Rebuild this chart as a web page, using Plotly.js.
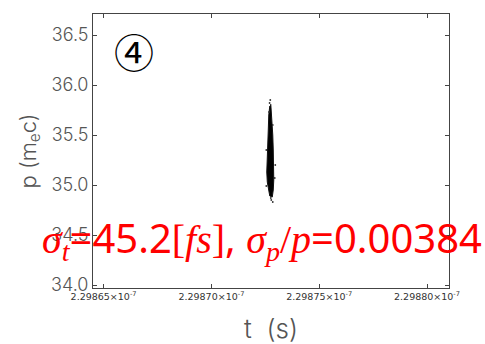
<!DOCTYPE html>
<html>
<head>
<meta charset="utf-8">
<script src="https://cdn.plot.ly/plotly-3.0.1.min.js"></script>
<style>html,body{margin:0;padding:0;background:#fff;}#chart{width:485px;height:344px;}</style>
</head>
<body>
<div id="chart"></div>
<script>
// Outline of the dense bunch core (t in seconds, p in m_e c)
const coreT = [2.29872708e-7, 2.29872662e-7, 2.29872639e-7, 2.29872616e-7, 2.29872593e-7, 2.29872569e-7, 2.29872569e-7, 2.29872593e-7, 2.29872639e-7, 2.29872708e-7,
               2.29872824e-7, 2.29872870e-7, 2.29872894e-7, 2.29872894e-7, 2.29872870e-7, 2.29872847e-7, 2.29872801e-7, 2.29872778e-7, 2.29872755e-7];
const coreP = [35.79, 35.70, 35.55, 35.40, 35.25, 35.17, 35.13, 35.03, 34.95, 34.89,
               34.88, 34.95, 35.05, 35.17, 35.35, 35.50, 35.65, 35.75, 35.81];
// Sparse outlying particles
const strayT = [2.29872731e-7, 2.29872699e-7, 2.29872671e-7, 2.29872847e-7, 2.29872546e-7, 2.29872963e-7, 2.29872940e-7, 2.29872546e-7, 2.29872778e-7, 2.29872847e-7, 2.29872755e-7];
const strayP = [35.85, 35.82, 35.73, 35.60, 35.35, 35.20, 35.07, 34.99, 34.85, 34.83, 34.87];

const xTicks = [2.29865e-7, 2.29870e-7, 2.29875e-7, 2.29880e-7];
const xTickText = ['2.29865×10<sup>-7</sup>', '2.29870×10<sup>-7</sup>', '2.29875×10<sup>-7</sup>', '2.29880×10<sup>-7</sup>'];
const yTicks = [34.0, 34.5, 35.0, 35.5, 36.0, 36.5];
const yTickText = ['34.0', '34.5', '35.0', '35.5', '36.0', '36.5'];

const traces = [
  {x: coreT, y: coreP, type: 'scatter', mode: 'lines', fill: 'toself',
   fillcolor: '#000', line: {color: '#111', width: 1}, hoverinfo: 'skip'},
  {x: strayT, y: strayP, type: 'scatter', mode: 'markers',
   marker: {color: '#333', size: 1.8}, hoverinfo: 'skip'}
];

const thin = 'Inter';
const layout = {
  width: 485, height: 344,
  margin: {l: 92.5, r: 36, t: 14, b: 56},
  paper_bgcolor: '#fff', plot_bgcolor: '#fff',
  showlegend: false,
  xaxis: {
    range: [2.2986451e-7, 2.2988102e-7],
    tickmode: 'array', tickvals: xTicks, ticktext: xTickText,
    tickfont: {family: 'DejaVu Sans', size: 9.5, color: '#333'},
    ticks: 'inside', ticklen: 4, tickcolor: '#444',
    showline: true, linecolor: '#444', linewidth: 1, mirror: 'ticks',
    showgrid: false, zeroline: false,
    title: {text: 't\u00a0\u00a0(s)', font: {family: thin, size: 26, color: '#555', weight: 300}, standoff: 18}
  },
  yaxis: {
    range: [33.97, 36.71],
    tickmode: 'array', tickvals: yTicks, ticktext: yTickText,
    tickfont: {family: thin, size: 18, color: '#555', weight: 300},
    ticks: 'inside', ticklen: 4, tickcolor: '#444',
    showline: true, linecolor: '#444', linewidth: 1, mirror: 'ticks',
    showgrid: false, zeroline: false,
    title: {text: 'p\u00a0(m<sub>e</sub>c)', font: {family: thin, size: 22, color: '#555', weight: 300}, standoff: 8}
  },
  annotations: [
    {xref: 'paper', yref: 'paper', x: 0.116, y: 0.866, xanchor: 'center', yanchor: 'middle',
     text: '④', showarrow: false,
     font: {family: 'Noto Sans CJK JP', size: 40, color: '#000'}},
    {xref: 'paper', yref: 'paper', x: -0.15, y: 0.18, xanchor: 'left', yanchor: 'middle',
     showarrow: false,
     text: '<span style="font-family:Liberation Serif"><i>σ</i><sub><i>t</i></sub></span>=45.2<span style="font-family:Liberation Serif">[<i>fs</i>]</span>, <span style="font-family:Liberation Serif"><i>σ</i><sub><i>p</i></sub>/<i>p</i></span>=0.00384',
     font: {family: 'Noto Sans', size: 40, color: '#ff0000'}}
  ]
};

Plotly.newPlot('chart', traces, layout, {staticPlot: true, displayModeBar: false});
</script>
</body>
</html>
